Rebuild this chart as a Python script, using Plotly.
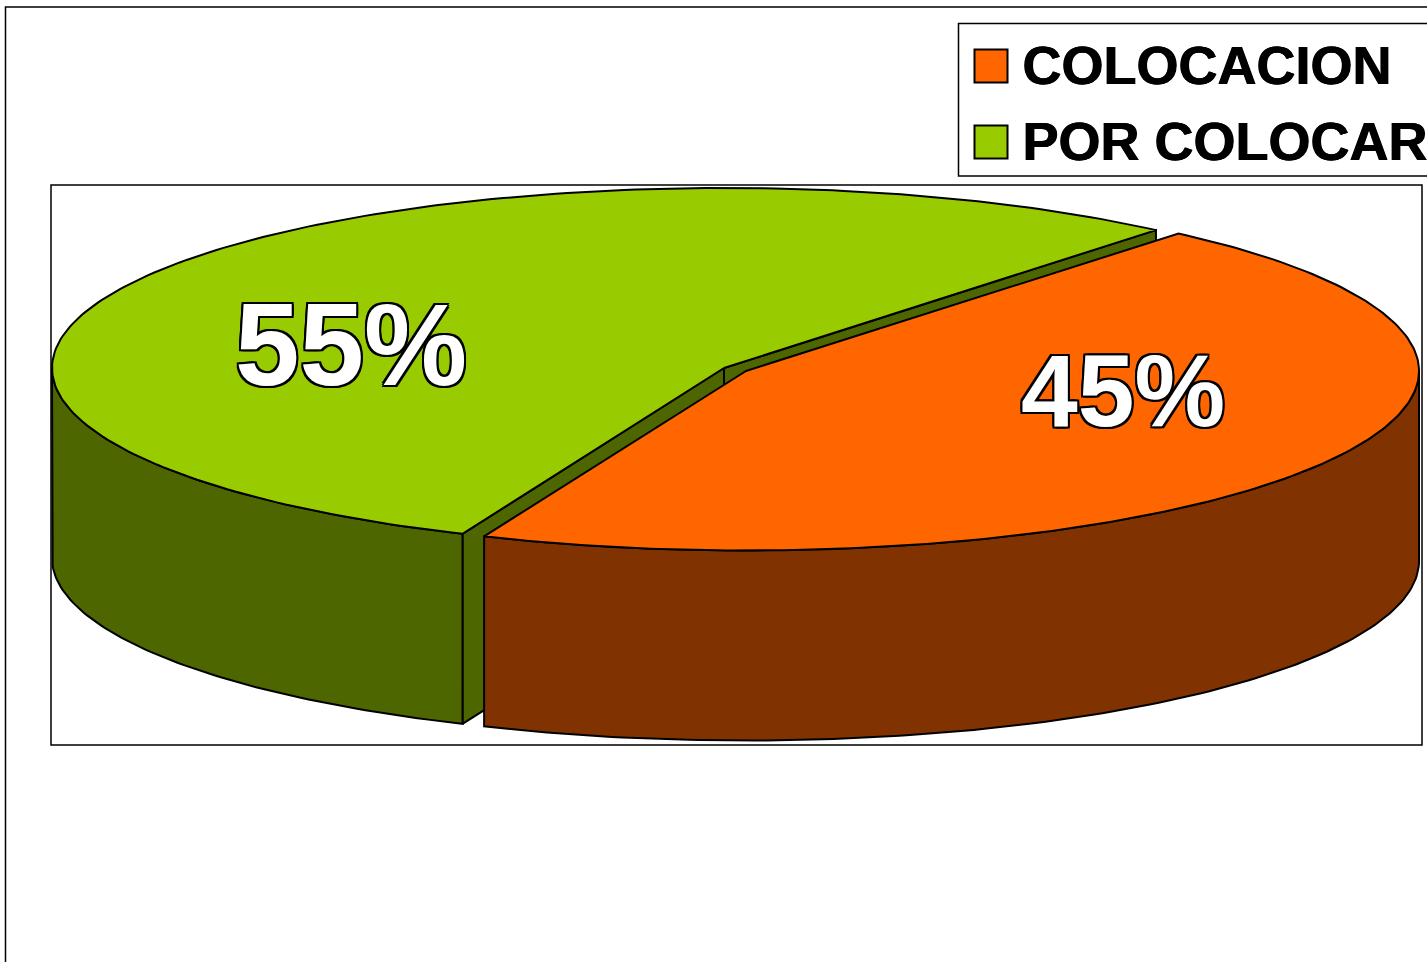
import numpy as np
import plotly.graph_objects as go

# Data
CATEGORIES = ["COLOCACION", "POR COLOCAR"]
VALUES = [45.25, 54.75]
PERCENT_LABELS = ["45%", "55%"]

# Styles
TOP_COLORS = ["#FF6600", "#99CC00"]
SIDE_COLORS = ["#803300", "#4D6600"]
EDGE = "#000000"
FONT = "Liberation Sans"

W, H = 1427, 962
START_ANGLE = 40          # degrees clockwise from 12 o'clock
DEPTH = 190
CENTERS = [(746, 371), (724, 368)]
RX = [673, 672]
RY = [179.5, 180]
LABEL_POS = [(1123, 400), (351, 356)]
LABEL_SIZE = [102, 116]
LEGEND_Y = [66, 142]
LEGEND_TEXT_Y = [70, 146]


def ell(i, deg):
    t = np.radians(np.asarray(deg, dtype=float))
    cx, cy = CENTERS[i]
    return cx + RX[i] * np.sin(t), cy - RY[i] * np.cos(t)


fractions = np.cumsum([0] + VALUES) / sum(VALUES) * 360 + START_ANGLE
a0 = fractions[:-1]
a1 = fractions[1:]


def poly(x, y, fill):
    return go.Scatter(x=list(x), y=list(y), mode="lines", fill="toself",
                      fillcolor=fill, line=dict(color=EDGE, width=2),
                      hoverinfo="skip", showlegend=False)


traces = []

# second slice first (it sits behind)
i = 1
cx, cy = CENTERS[i]
sx, sy = ell(i, a0[i])
ex, ey = ell(i, a1[i])
traces.append(poly([cx, sx, sx, cx, cx], [cy, sy, sy + DEPTH, cy + DEPTH, cy], SIDE_COLORS[i]))
traces.append(poly([cx, ex, ex, cx, cx], [cy, ey, ey + DEPTH, cy + DEPTH, cy], SIDE_COLORS[i]))
arc = np.linspace(a0[i], 270, 80)
ax, ay = ell(i, arc)
traces.append(poly(np.r_[ax, ax[::-1], ax[0]], np.r_[ay, ay[::-1] + DEPTH, ay[0]], SIDE_COLORS[i]))
arc = np.linspace(a0[i], a1[i], 200)
ax, ay = ell(i, arc)
traces.append(poly(np.r_[cx, ax, cx], np.r_[cy, ay, cy], TOP_COLORS[i]))

# first slice
i = 0
cx, cy = CENTERS[i]
arc = np.linspace(90, a1[i], 120)
ax, ay = ell(i, arc)
traces.append(poly(np.r_[ax, ax[::-1], ax[0]], np.r_[ay, ay[::-1] + DEPTH, ay[0]], SIDE_COLORS[i]))
arc = np.linspace(a0[i], a1[i], 200)
ax, ay = ell(i, arc)
traces.append(poly(np.r_[cx, ax, cx], np.r_[cy, ay, cy], TOP_COLORS[i]))

# percent labels
outline = ",".join(f"{dx}px {dy}px 0 #000" for dx, dy in
                   [(-2, 0), (2, 0), (0, -2), (0, 2), (-2, -2), (2, -2), (-2, 2), (2, 2)])
for (x, y), label, size in zip(LABEL_POS, PERCENT_LABELS, LABEL_SIZE):
    traces.append(go.Scatter(x=[x], y=[y], mode="text", text=[label],
                             textposition="middle center",
                             textfont=dict(family=FONT, size=size, color="#FFFFFF",
                                           weight="bold", shadow=outline),
                             hoverinfo="skip", showlegend=False, cliponaxis=False))

# legend
for name, color, y, ty in zip(CATEGORIES, TOP_COLORS, LEGEND_Y, LEGEND_TEXT_Y):
    traces.append(go.Scatter(x=[991], y=[y], mode="markers",
                             marker=dict(symbol="square", size=33, color=color,
                                         line=dict(color=EDGE, width=2)),
                             hoverinfo="skip", showlegend=False))
    traces.append(go.Scatter(x=[1022.5], y=[ty], mode="text", text=[name],
                             textposition="middle right",
                             textfont=dict(family=FONT, size=54, color="#000000", weight="bold",
                                           shadow="0.6px 0 0 #000,-0.6px 0 0 #000"),
                             hoverinfo="skip", showlegend=False))

fig = go.Figure(traces)
frame = dict(color=EDGE, width=1.5)
fig.update_layout(
    width=W, height=H, autosize=False,
    margin=dict(l=0, r=0, t=0, b=0),
    paper_bgcolor="#FFFFFF", plot_bgcolor="#FFFFFF",
    xaxis=dict(range=[0, W], visible=False, fixedrange=True),
    yaxis=dict(range=[H, 0], visible=False, fixedrange=True),
    shapes=[
        dict(type="rect", x0=5.5, x1=W + 20, y0=7, y1=H + 20, line=frame, layer="below"),
        dict(type="rect", x0=51, x1=1422, y0=185, y1=745, line=frame, layer="below"),
        dict(type="rect", x0=958.5, x1=W + 20, y0=23.5, y1=176, line=frame, layer="below"),
    ],
)
fig.write_html("out.html", config={"displayModeBar": False},
               post_script="document.body.style.margin='0';document.body.style.overflow='hidden';")
